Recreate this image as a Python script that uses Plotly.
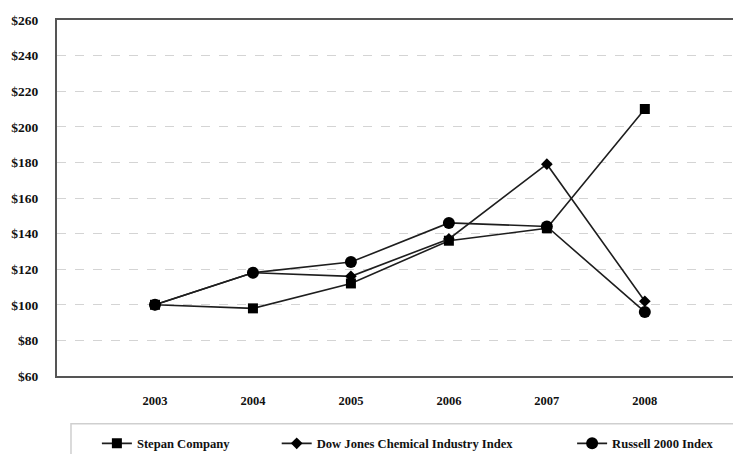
import plotly.graph_objects as go

years = ["2003", "2004", "2005", "2006", "2007", "2008"]
stepan = [100, 98, 112, 136, 143, 210]
dow_chem = [100, 118, 116, 137, 179, 102]
russell = [100, 118, 124, 146, 144, 96]
y_ticks = list(range(60, 261, 20))
y_tick_text = [f"${v}" for v in y_ticks]

FONT = "Times New Roman"
LINE = "#1e1e1e"

fig = go.Figure()
series = [
    ("Stepan Company", stepan, "square", 10, "legend"),
    ("Dow Jones Chemical Industry Index", dow_chem, "diamond", 9, "legend2"),
    ("Russell 2000 Index", russell, "circle", 12, "legend3"),
]
for name, vals, sym, size, leg in series:
    fig.add_trace(go.Scatter(
        x=years, y=vals, name=name, mode="lines+markers",
        line=dict(color=LINE, width=1.6),
        marker=dict(symbol=sym, size=size, color="#000000"),
        legend=leg,
    ))

leg_common = dict(
    orientation="h", yanchor="middle", xanchor="left",
    bgcolor="rgba(0,0,0,0)", borderwidth=0,
    font=dict(family=FONT, size=12.6, color="#111", weight="bold"),
    itemwidth=30, tracegroupgap=0,
)
fig.update_layout(
    width=733, height=454,
    margin=dict(l=57, r=0, t=20, b=78, autoexpand=False),
    paper_bgcolor="white", plot_bgcolor="white",
    font=dict(family=FONT),
    showlegend=True,
    legend=dict(x=0.059, y=-0.19, **leg_common),
    legend2=dict(x=0.325, y=-0.19, **leg_common),
    legend3=dict(x=0.762, y=-0.19, **leg_common),
    xaxis=dict(
        type="category", range=[-1, 5.9],
        showline=True, linecolor="#555", linewidth=2, mirror=True,
        showgrid=False, zeroline=False,
        ticks="outside", ticklen=12, tickcolor="rgba(0,0,0,0)",
        tickfont=dict(family=FONT, size=12.5, color="#111", weight="bold"),
    ),
    yaxis=dict(
        range=[60, 260], tickvals=y_ticks, ticktext=y_tick_text,
        showline=True, linecolor="#555", linewidth=2,
        showgrid=True, gridcolor="#d4d4d4", griddash="dash", gridwidth=1,
        zeroline=False,
        ticks="outside", ticklen=14, tickcolor="rgba(0,0,0,0)",
        tickfont=dict(family=FONT, size=13.5, color="#111", weight="bold"),
    ),
    shapes=[dict(
        type="rect", xref="paper", yref="paper",
        x0=0.0207, x1=1.05, y0=-0.134, y1=-0.3,
        line=dict(color="#cfcfcf", width=1.5), fillcolor="rgba(0,0,0,0)",
    )],
)
fig.write_html("out.html")
